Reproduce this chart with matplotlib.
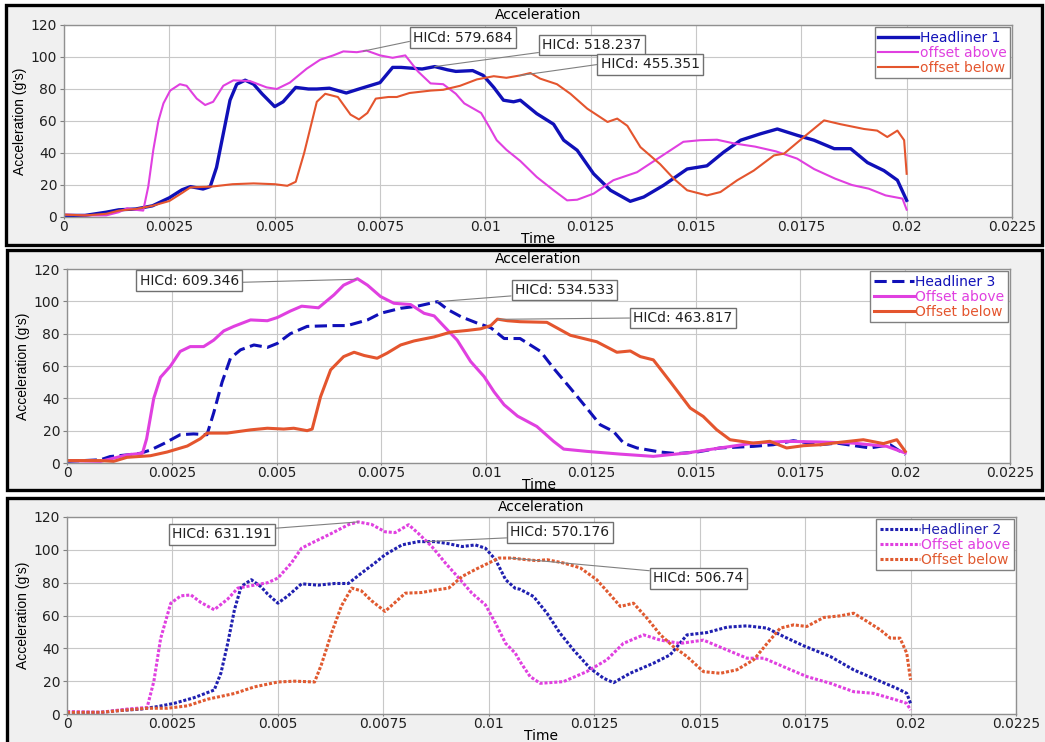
import numpy as np
import matplotlib as mpl
import matplotlib.pyplot as plt
from matplotlib.patches import Rectangle

mpl.rcParams.update({
    "font.family": "DejaVu Sans",
    "font.size": 10,
    "axes.edgecolor": "#909090",
    "axes.linewidth": 1.0,
    "grid.color": "#c8c8c8",
    "grid.linewidth": 0.8,
    "xtick.color": "#808080",
    "ytick.color": "#808080",
    "xtick.labelcolor": "#202020",
    "ytick.labelcolor": "#202020",
    "xtick.major.size": 1.5,
    "ytick.major.size": 3,
    "xtick.major.pad": 0.5,
    "ytick.major.pad": 2,
})

W, H = 1045, 742

# ---- panel 1 : Headliner 1 (solid)
t_h1 = [0, .0005, .001, .0013, .0017, .0021, .0025, .0028, .003, .0033,
        .00347, .00362, .00378, .00394, .0041, .0043, .0045, .0047, .005, .0052,
        .0055, .0058, .006, .0063, .0067, .007, .0075, .0078, .008, .0085,
        .0088, .0091, .0093, .0097, .00995, .0102, .01043, .01067, .01083, .01122,
        .01162, .01186, .01218, .01257, .01297, .01344, .01376, .01423, .01479, .01526,
        .01566, .01606, .01653, .01693, .01741, .0178, .01828, .01867, .01907, .01946,
        .01978, .02]
v_h1 = [1, 1, 3, 4.5, 5, 7, 12, 17, 19, 17.5,
        19, 31, 52, 73, 83, 85.5, 83, 77, 69, 72,
        81, 80, 80, 80.5, 77.5, 80, 84, 93.5, 93.5, 92.5,
        94, 92, 91, 91.5, 88.5, 81, 73, 72, 73, 64.6,
        58, 48, 41.7, 27, 16.7, 9.8, 12.5, 19.8, 30, 32,
        40.6, 48, 52, 55, 51, 48, 42.7, 42.7, 34, 29,
        23, 10.4]

t_a1 = [0, .0005, .001, .0013, .0015, .0017, .00188, .002, .00212, .00224,
        .00236, .00252, .00275, .00291, .00315, .00335, .00354, .00378, .00402, .00441,
        .00481, .00505, .00536, .00576, .00608, .00639, .00663, .00695, .00718, .0075,
        .0078, .0081, .0084, .0087, .009, .0093, .0095, .0099, .0101, .01027,
        .0105, .01083, .01122, .01162, .01194, .01218, .01257, .01304, .0136, .01415,
        .0147, .0151, .0155, .0159, .0164, .0169, .0174, .0178, .0183, .0187,
        .0191, .0195, .0199, .02]
v_a1 = [1.5, 1, 1, 3, 5.5, 4.5, 4, 19, 42, 60,
        71, 79, 83, 82, 74, 70, 72, 82, 85.4, 85,
        81, 80, 84, 92.7, 98.3, 101, 103.5, 103, 104, 101,
        99.5, 101, 91, 83.5, 83, 77, 71, 65, 56, 48,
        42, 35, 25, 16.7, 10.4, 10.8, 14.6, 23, 28, 37.5,
        47, 48, 48.3, 46, 44, 41, 36.5, 30, 24, 20,
        17.7, 13.5, 11.5, 4.6]

t_b1 = [0, .0005, .001, .0013, .0017, .0021, .0025, .0028, .003, .0035,
        .004, .0045, .005, .0053, .0055, .0057, .006, .0062, .0065, .0068,
        .007, .0072, .0074, .0077, .0079, .0082, .0087, .009, .0094, .0098,
        .0102, .0105, .01083, .01107, .0113, .0117, .01202, .01242, .0129, .01313,
        .01337, .01368, .01415, .01447, .01479, .01526, .01558, .01598, .01637, .01685,
        .01709, .01756, .01804, .01843, .01899, .0193, .01954, .01978, .01994, .02]
v_b1 = [1.5, 1, 2, 4, 5, 7, 10, 15, 18.5, 19,
        20.5, 21, 20.5, 19.5, 22, 40, 72, 77, 75, 64,
        61, 65, 74, 75, 75, 77.5, 79, 79.5, 82, 86,
        88, 87, 88.5, 90, 86.5, 83, 77, 67.7, 59.4, 61.5,
        57, 43.7, 33, 24, 16.7, 13.5, 15.6, 23, 29, 38.5,
        39.6, 50, 60.4, 58, 55, 54, 50, 54, 48, 27]

# ---- panel 2 : Headliner 3 (dashed)
t_h3 = [0, .0008, .00103, .00143, .00175, .00199, .00231, .0027, .00302, .00334,
        .0035, .0037, .0039, .00414, .00446, .00478, .00502, .00533, .00573, .00637,
        .00669, .00717, .00748, .00796, .00836, .00884, .00908, .0094, .00979, .01011,
        .01043, .01081, .0113, .01161, .01201, .0124, .01272, .01304, .01328, .0136,
        .01415, .01455, .01503, .01558, .01638, .01685, .01733, .01797, .01837, .01916,
        .01964, .02]
v_h3 = [1, 2, 4, 5, 6, 8, 12, 17.5, 18, 17.5,
        31, 50, 64.8, 70, 73, 71.5, 74, 80, 84.5, 85,
        85, 88.5, 92.6, 95.7, 97, 99.8, 95, 90.5, 86.5, 83.7,
        77, 77, 69, 58.6, 46.3, 34, 23.7, 19.5, 12.3, 9.3,
        6.8, 5.8, 6.8, 9.3, 10.3, 11.3, 13.8, 11.3, 12.3, 9.3,
        11.3, 5.1]

t_a2 = [0, .0008, .00143, .0016, .0018, .0019, .00207, .00223, .00247, .0027,
        .00294, .00326, .0035, .00374, .00398, .00438, .00478, .00502, .00533, .0056,
        .0058, .006, .00637, .0066, .00693, .00717, .00748, .0078, .0082, .00852,
        .00876, .009, .00931, .00963, .00995, .01019, .01043, .01075, .01121, .01161,
        .01185, .0124, .0132, .01399, .01479, .01558, .01638, .01717, .01797, .01876,
        .01956, .02]
v_a2 = [1.5, 1, 5, 5.5, 6, 15, 40, 53, 60, 69,
        72, 72, 76, 81.7, 84.5, 88.5, 88, 90, 94, 97,
        96.5, 96, 104, 110, 114, 110, 103, 98.8, 98, 92.6,
        91, 84.4, 76, 62.8, 53.5, 44, 36, 29, 22.6, 13.4,
        8.6, 7.2, 5.5, 4.1, 6.2, 9.3, 12.3, 13.4, 13, 12.3,
        10.3, 6.2]

t_b2 = [0, .0008, .00111, .00143, .00199, .00239, .00287, .00318, .00334, .00382,
        .00438, .00478, .00517, .00541, .00573, .00585, .00605, .00629, .0066, .00685,
        .00709, .0074, .00764, .00796, .00828, .00876, .00916, .00955, .00987, .01011,
        .01027, .01051, .01081, .01145, .01201, .01264, .01312, .01344, .01368, .01399,
        .01439, .01487, .01518, .0155, .01582, .01638, .01677, .01717, .01757, .01797,
        .01844, .019, .01948, .0198, .02]
v_b2 = [1.5, 1.5, 1, 3.5, 4.5, 6.8, 10.5, 15, 18.5, 18.5,
        20.5, 21.5, 21, 21.5, 20, 21, 41, 57.6, 65.8, 68.5,
        66.5, 64.8, 68, 73, 75.5, 78, 81, 82, 83, 85,
        89, 88, 87.4, 87, 79, 75, 68.5, 69.3, 65.8, 63.8,
        50.4, 34, 28.8, 20.6, 14.4, 12.3, 13.4, 9.3, 10.7, 11.3,
        12.8, 14.4, 12, 14.4, 7.2]

# ---- panel 3 : Headliner 2 (dotted)
t_h2 = [0, .0008, .00119, .00175, .00214, .00254, .00302, .00349, .00365, .00381,
        .00397, .00413, .00437, .0046, .00476, .005, .00524, .00556, .00595, .00635,
        .00667, .00698, .0073, .00754, .00794, .00833, .00873, .00905, .00937, .00968,
        .00992, .01016, .0104, .01063, .01074, .01106, .01138, .01169, .01201, .0124,
        .01272, .01296, .01335, .01391, .0143, .0147, .01517, .01565, .01612, .0166,
        .01699, .01747, .0181, .01865, .0192, .01967, .01991, .02]
v_h2 = [1, 1, 2, 3, 4.5, 6.5, 10, 14.6, 25, 43,
        63.5, 77.7, 81.8, 77.5, 73, 67.5, 72, 79.3, 78.5, 79.5,
        79.5, 85.8, 92, 97, 103, 105, 105, 103.7, 102, 103,
        101, 94, 81.8, 76.5, 76, 71.6, 61.4, 49.2, 39, 27.9,
        21.8, 19.1, 24.8, 31, 36, 48.2, 49.6, 52.9, 53.7, 52.3,
        47.2, 41.5, 35, 26.9, 20.8, 15.7, 12.6, 6.5]

t_a3 = [0, .00079, .00143, .0019, .00206, .00222, .00246, .0027, .00294, .00317,
        .00349, .00381, .00405, .00444, .00476, .005, .00532, .00556, .00587, .00627,
        .00667, .0069, .00722, .00754, .00778, .0081, .00833, .00865, .00897, .00929,
        .0096, .00992, .01016, .0104, .01063, .01074, .01098, .01122, .01177, .01232,
        .0128, .01319, .01367, .01407, .01454, .01509, .01565, .01612, .01652, .01707,
        .01754, .0181, .01865, .01912, .01967, .01991, .02]
v_a3 = [1.5, 1, 3, 4, 20, 46, 67.5, 72, 72.5, 68,
        63.5, 70, 76.7, 78.5, 80, 82.8, 92, 101, 105, 110,
        115.3, 117, 115.5, 111, 110.5, 115.3, 110, 102, 92, 82.8,
        73.6, 66.5, 55.3, 43, 37, 32, 22.8, 18.7, 19.7, 25.8,
        33, 43, 48.2, 45, 43, 45, 39, 34, 34, 27.9,
        22.8, 18.7, 13.6, 12.6, 8.5, 6.5, 2.4]

t_b3 = [0, .0008, .00143, .0019, .00238, .00286, .00333, .00397, .00444, .005,
        .0054, .00587, .00603, .00627, .00651, .00675, .00698, .00722, .00754, .00778,
        .00802, .00841, .00873, .00905, .00937, .00968, .01, .01024, .01055, .01074,
        .01114, .01138, .01177, .01217, .01256, .01288, .01312, .01343, .01375, .01407,
        .01438, .0147, .01509, .01549, .01588, .01628, .0166, .01691, .01723, .01754,
        .01794, .01834, .01865, .01897, .01928, .01952, .01975, .01991, .02]
v_b3 = [1, 1, 2.5, 3.5, 3.5, 5, 9, 12.5, 16.5, 19.5,
        20, 19.5, 30, 49.2, 66, 76.7, 75, 69, 62.5, 68,
        73.6, 74, 75.5, 76.7, 83.8, 88, 92, 95, 95, 94.4,
        93.4, 94, 92, 89, 81.8, 72.6, 65.5, 67.5, 58.4, 48.2,
        41, 35, 25.8, 24.8, 26.9, 33, 43, 52.3, 54.3, 53.3,
        58.8, 59.8, 61.4, 56.4, 51.3, 46.2, 46.2, 37, 20.8]

x_ticks = [0, .0025, .005, .0075, .01, .0125, .015, .0175, .02, .0225]
x_ticklabels = ["0", "0.0025", "0.005", "0.0075", "0.01", "0.0125", "0.015", "0.0175", "0.02", "0.0225"]
y_ticks = [0, 20, 40, 60, 80, 100, 120]

labels1 = ["Headliner 1", "offset above", "offset below"]
labels2 = ["Headliner 3", "Offset above", "Offset below"]
labels3 = ["Headliner 2", "Offset above", "Offset below"]

hic1 = ["HICd: 579.684", "HICd: 518.237", "HICd: 455.351"]
hic2 = ["HICd: 609.346", "HICd: 534.533", "HICd: 463.817"]
hic3 = ["HICd: 631.191", "HICd: 570.176", "HICd: 506.74"]
# time of the peak each HIC callout points at (series order: offset above, headliner, offset below)
hic_t1 = [0.0071, 0.0088, 0.0108]
hic_t2 = [0.0069, 0.00884, 0.0103]
hic_t3 = [0.0069, 0.0085, 0.0105]

BLUE = "#1010b8"
MAG = "#e040e0"
ORG = "#e4552e"


def fig_rect(x0, y0, x1, y1):
    return [x0 / W, 1 - y1 / H, (x1 - x0) / W, (y1 - y0) / H]


fig = plt.figure(figsize=(W / 100, H / 100), dpi=100)
fig.patch.set_facecolor("white")

# panel frames
for (x0, y0, x1, y1) in [(6, 5, 1042, 245), (7, 250, 1042, 490), (7, 498, 1060, 760)]:
    r = fig_rect(x0, y0, x1, y1)
    fig.add_artist(Rectangle((r[0], r[1]), r[2], r[3], transform=fig.transFigure,
                             facecolor="#f0f0f0", edgecolor="black", lw=2.4, zorder=-5))


def setup(ax):
    ax.set_xlim(0, 0.0225)
    ax.set_ylim(0, 120)
    ax.set_xticks(x_ticks)
    ax.set_xticklabels(x_ticklabels)
    ax.set_yticks(y_ticks)
    ax.grid(True)
    ax.set_axisbelow(True)
    ax.set_facecolor("white")
    ax.set_title("Acceleration", fontsize=10, pad=4)
    ax.set_xlabel("Time", fontsize=10, labelpad=-1.5)
    ax.set_ylabel("Acceleration (g's)", fontsize=10, labelpad=3,
                  family=["Liberation Sans Narrow", "Liberation Sans"])


def callouts(ax, texts, series, times, boxes, rels):
    for txt, (tt, vv), tp, bx, rp in zip(texts, series, times, boxes, rels):
        ax.annotate(txt, xy=(tp, np.interp(tp, tt, vv)), xytext=bx,
                    ha="center", va="center", fontsize=10, color="#202020",
                    bbox=dict(boxstyle="square,pad=0.25", fc="white", ec="#707070", lw=1),
                    arrowprops=dict(arrowstyle="-", color="#808080", lw=0.8,
                                    relpos=rp, shrinkA=0, shrinkB=0))


def legend(ax):
    ax.legend(loc="upper right", bbox_to_anchor=(1, 1), borderaxespad=0.15,
              fancybox=False, framealpha=1, edgecolor="#808080", fontsize=10,
              handlelength=2.9, handletextpad=0.1, labelspacing=0.08,
              borderpad=0.25, labelcolor="linecolor")


# ---- panel 1
ax1 = fig.add_axes(fig_rect(64, 25, 1012, 217))
setup(ax1)
ax1.plot(t_h1, v_h1, color=BLUE, lw=2.4, label=labels1[0])
ax1.plot(t_a1, v_a1, color=MAG, lw=1.5, label=labels1[1])
ax1.plot(t_b1, v_b1, color=ORG, lw=1.5, label=labels1[2])
legend(ax1)
callouts(ax1, hic1, [(t_a1, v_a1), (t_h1, v_h1), (t_b1, v_b1)], hic_t1,
         [(0.00947, 112), (0.01253, 107.5), (0.01391, 95.6)],
         [(0, 0.3), (0, 0.0), (0, 0.5)])

# ---- panel 2
ax2 = fig.add_axes(fig_rect(67, 269, 1010, 463))
setup(ax2)
ax2.plot(t_h3, v_h3, color=BLUE, lw=2.2, ls=(0, (4, 1.8)), label=labels2[0])
ax2.plot(t_a2, v_a2, color=MAG, lw=2.2, label=labels2[1])
ax2.plot(t_b2, v_b2, color=ORG, lw=2.2, label=labels2[2])
legend(ax2)
callouts(ax2, hic2, [(t_a2, v_a2), (t_h3, v_h3), (t_b2, v_b2)], hic_t2,
         [(0.00292, 112.6), (0.01187, 107), (0.0147, 89.7)],
         [(1, 0.4), (0, 0.1), (0, 0.5)])

# ---- panel 3
ax3 = fig.add_axes(fig_rect(67, 517, 1016, 714))
setup(ax3)
ax3.plot(t_h2, v_h2, color="#2020b0", lw=2.2, ls=(0, (1, 0.6)), label=labels3[0])
ax3.plot(t_a3, v_a3, color=MAG, lw=2.2, ls=(0, (1, 0.6)), label=labels3[1])
ax3.plot(t_b3, v_b3, color="#e05a30", lw=2.2, ls=(0, (1, 0.6)), label=labels3[2])
legend(ax3)
callouts(ax3, hic3, [(t_a3, v_a3), (t_h2, v_h2), (t_b3, v_b3)], hic_t3,
         [(0.00368, 109.6), (0.01169, 110.8), (0.01497, 82.8)],
         [(1, 0.9), (0, 0.1), (0, 1)])

fig.savefig("out.png", dpi=100)
